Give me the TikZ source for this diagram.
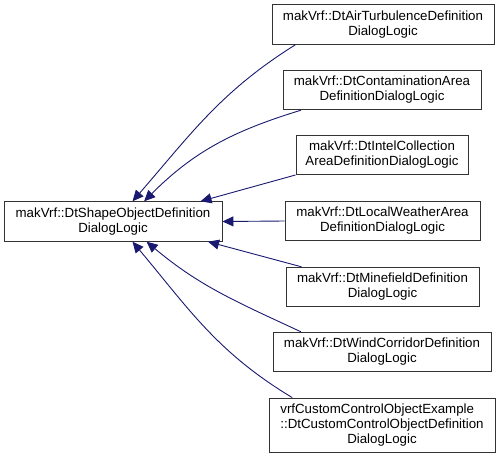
\documentclass[tikz,border=0pt]{standalone}
\usepackage{fontspec}
\setmainfont{Liberation Sans}
\usetikzlibrary{arrows.meta}
\definecolor{edgeblue}{RGB}{25,25,112}
\begin{document}
\begin{tikzpicture}[
        x=1pt, y=1pt,
        every node/.style={draw=black!80, line width=0.9pt, inner sep=0pt, align=center,
            font=\fontsize{13.3}{15}\selectfont, minimum height=39.5pt},
        ar/.style={-{Triangle[length=11pt,width=10pt]}, edgeblue, line width=0.9pt},
    ]
    \useasboundingbox (0,0) rectangle (501,-459);

    \node[minimum width=218pt](base) at (113,-221.5) {makVrf::DtShapeObjectDefinition\\DialogLogic};
    \node[minimum width=222pt](air) at (383,-24.5) {makVrf::DtAirTurbulenceDefinition\\DialogLogic};
    \node[minimum width=198pt](contam) at (382,-90) {makVrf::DtContaminationArea\\DefinitionDialogLogic};
    \node[minimum width=172pt](intel) at (382,-155) {makVrf::DtIntelCollection\\AreaDefinitionDialogLogic};
    \node[minimum width=195pt](weather) at (382.5,-221) {makVrf::DtLocalWeatherArea\\DefinitionDialogLogic};
    \node[minimum width=193pt](mine) at (382.5,-287) {makVrf::DtMinefieldDefinition\\DialogLogic};
    \node[minimum width=218pt](wind) at (382,-352) {makVrf::DtWindCorridorDefinition\\DialogLogic};
    \node[minimum width=226pt, minimum height=54pt](custom) at (382,-425)
        {\begin{tabular}{@{}l@{}}vrfCustomControlObjectExample\\::DtCustomControlObjectDefinition\\
         \multicolumn{1}{@{}c@{}}{DialogLogic}\end{tabular}};

    \path[ar]
    (air.193) edge[out=212, in=49] (base.46)
    (contam.194) edge[out=197, in=45] (base.33)
    (intel.193) edge (base.13)
    (weather.west) edge (base.east)
    (mine.166) edge (base.348)
    (wind.166) edge[out=155, in=-40] (base.329)
    (custom.163) edge[out=149, in=-50] (base.314)
    ;
\end{tikzpicture}
\end{document}
